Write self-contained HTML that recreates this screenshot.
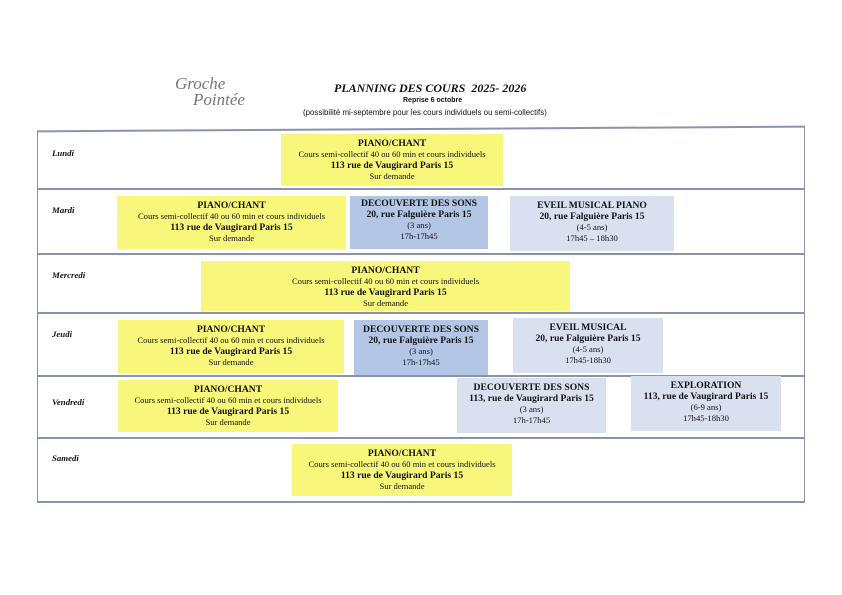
<!DOCTYPE html>
<html><head><meta charset="utf-8"><style>
body{margin:0;width:842px;height:595px;background:#fff;position:relative;overflow:hidden;font-family:"Liberation Serif",serif;color:#111}
.b{position:absolute;text-align:center;font-size:8.6px;line-height:11px;box-sizing:border-box;padding-top:4px;white-space:nowrap}
.b b{font-size:9.6px}
.y{background:#f8f77b}.d{background:#b3c6e6}.l{background:#d9e0f0}
.h{position:absolute;height:1.5px;background:#8794ab;left:37px;width:768px}
.v{position:absolute;width:1px;background:#8794ab}
.day{position:absolute;left:52px;font-size:8.8px;font-weight:bold;font-style:italic}
</style></head><body>
<div style="position:absolute;left:175px;top:76px;font-family:'Liberation Serif',serif;font-style:italic;font-size:17px;color:#777;line-height:16px">Groche<br><span style="padding-left:18px">Pointée</span></div>
<div style="position:absolute;left:334px;top:81px;font-style:italic;font-weight:bold;font-size:12px">PLANNING DES COURS&nbsp; 2025- 2026</div>
<div style="position:absolute;left:403px;top:97px;font-family:'Liberation Sans',sans-serif;font-weight:bold;font-size:7px">Reprise 6 octobre</div>
<div style="position:absolute;left:303px;top:108px;font-family:'Liberation Sans',sans-serif;font-size:7.9px">(possibilité mi-septembre pour les cours individuels ou semi-collectifs)</div>

<div class="h" style="top:128px;transform:rotate(-0.35deg)"></div>
<div class="h" style="top:188px"></div>
<div class="h" style="top:253px"></div>
<div class="h" style="top:312px"></div>
<div class="h" style="top:375px"></div>
<div class="h" style="top:437px"></div>
<div class="h" style="top:501px"></div>
<div class="v" style="left:37px;top:130px;height:372px"></div>
<div class="v" style="left:804px;top:126px;height:376px"></div>

<div class="day" style="top:148px">Lundi</div>
<div class="day" style="top:205px">Mardi</div>
<div class="day" style="top:270px">Mercredi</div>
<div class="day" style="top:329px">Jeudi</div>
<div class="day" style="top:397px">Vendredi</div>
<div class="day" style="top:453px">Samedi</div>

<div class="b y" style="left:281px;top:134px;width:222px;height:52px"><b>PIANO/CHANT</b><br>Cours semi-collectif 40 ou 60 min et cours individuels<br><b>113 rue de Vaugirard Paris 15</b><br>Sur demande</div>

<div class="b y" style="left:117px;top:196px;width:229px;height:53px"><b>PIANO/CHANT</b><br>Cours semi-collectif 40 ou 60 min et cours individuels<br><b>113 rue de Vaugirard Paris 15</b><br>Sur demande</div>
<div class="b d" style="left:350px;top:196px;width:138px;height:53px;padding-top:2px"><b>DECOUVERTE DES SONS</b><br><b>20, rue Falguière Paris 15</b><br>(3 ans)<br>17h-17h45</div>
<div class="b l" style="left:510px;top:196px;width:164px;height:55px"><b>EVEIL MUSICAL PIANO</b><br><b>20, rue Falguière Paris 15</b><br>(4-5 ans)<br>17h45 – 18h30</div>

<div class="b y" style="left:201px;top:261px;width:369px;height:50px"><b>PIANO/CHANT</b><br>Cours semi-collectif 40 ou 60 min et cours individuels<br><b>113 rue de Vaugirard Paris 15</b><br>Sur demande</div>

<div class="b y" style="left:118px;top:320px;width:226px;height:53px"><b>PIANO/CHANT</b><br>Cours semi-collectif 40 ou 60 min et cours individuels<br><b>113 rue de Vaugirard Paris 15</b><br>Sur demande</div>
<div class="b d" style="left:354px;top:320px;width:134px;height:55px"><b>DECOUVERTE DES SONS</b><br><b>20, rue Falguière Paris 15</b><br>(3 ans)<br>17h-17h45</div>
<div class="b l" style="left:513px;top:318px;width:150px;height:55px"><b>EVEIL MUSICAL</b><br><b>20, rue Falguière Paris 15</b><br>(4-5 ans)<br>17h45-18h30</div>

<div class="b y" style="left:118px;top:380px;width:220px;height:52px"><b>PIANO/CHANT</b><br>Cours semi-collectif 40 ou 60 min et cours individuels<br><b>113 rue de Vaugirard Paris 15</b><br>Sur demande</div>
<div class="b l" style="left:457px;top:378px;width:149px;height:55px"><b>DECOUVERTE DES SONS</b><br><b>113, rue de Vaugirard Paris 15</b><br>(3 ans)<br>17h-17h45</div>
<div class="b l" style="left:631px;top:376px;width:150px;height:55px"><b>EXPLORATION</b><br><b>113, rue de Vaugirard Paris 15</b><br>(6-9 ans)<br>17h45-18h30</div>

<div class="b y" style="left:292px;top:444px;width:220px;height:52px"><b>PIANO/CHANT</b><br>Cours semi-collectif 40 ou 60 min et cours individuels<br><b>113 rue de Vaugirard Paris 15</b><br>Sur demande</div>
</body></html>
